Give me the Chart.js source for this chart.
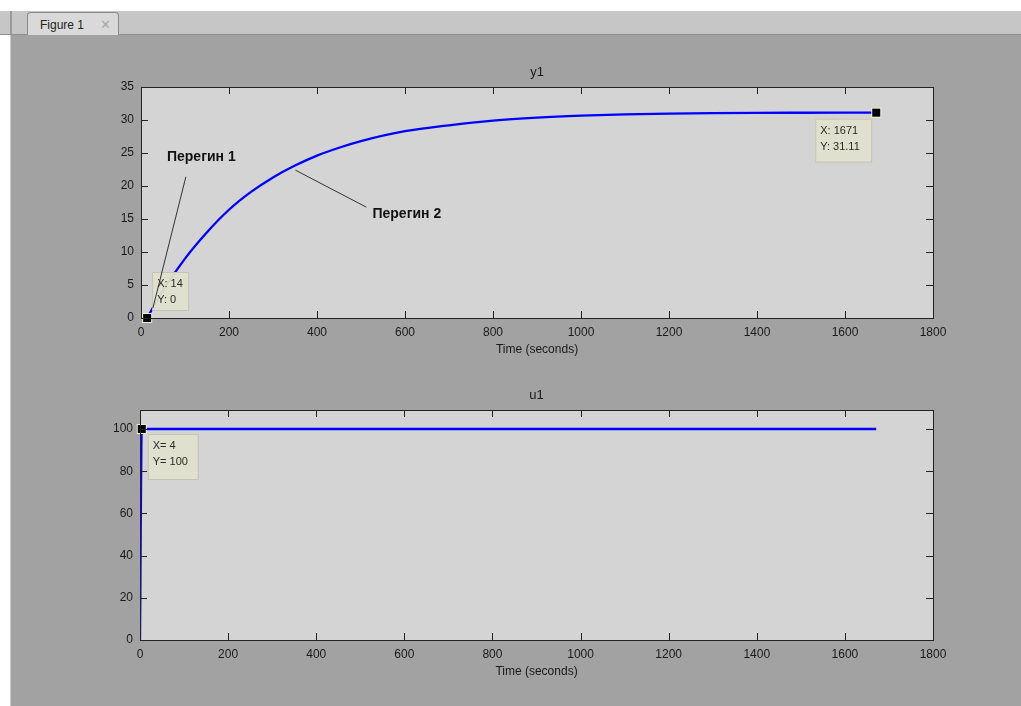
<!DOCTYPE html>
<html>
<head>
<meta charset="utf-8">
<script src="https://cdn.jsdelivr.net/npm/chart.js@4"></script>
<style>
  html, body { margin: 0; padding: 0; background: #fff; }
  #page { position: relative; width: 1021px; height: 706px; overflow: hidden; background: #fff; }
  #tabbar { position: absolute; left: 0; top: 11px; width: 1021px; height: 23px; background: #c6c6c6; border-bottom: 1px solid #8e8e8e; }
  #tabbar .notch { position: absolute; left: 10px; top: 0; width: 2px; height: 23px; background: #9a9a9a; }
  #tab { position: absolute; left: 27px; top: 12px; width: 90px; height: 24px; background: #d9d9d9; border: 1px solid #8a8a8a; border-bottom: none; border-radius: 4px 4px 0 0; font: 12px "Liberation Sans", Arial, sans-serif; color: #222; }
  #tab .name { position: absolute; left: 12px; top: 5px; }
  #tab .close { position: absolute; left: 72px; top: 4px; color: #a8a8a8; font-size: 13px; }
  #figure { position: absolute; left: 10px; top: 35px; width: 1011px; height: 671px; background: #a2a2a2; border-left: 1px solid #c8c8c8; }
  canvas { position: absolute; left: 0; }
</style>
</head>
<body>
<div id="page">
  <div id="tabbar"><div class="notch"></div></div>
  <div id="tab"><span class="name">Figure 1</span><span class="close">✕</span></div>
  <div id="figure"></div>
  <canvas id="plotY" width="1021" height="330" style="top:40px"></canvas>
  <canvas id="plotU" width="1021" height="346" style="top:360px"></canvas>
</div>
<script>
// y1: plant output
const timeY = [14, 50, 100, 150, 200, 250, 300, 350, 400, 450, 500, 600, 700, 800, 900, 1000, 1100, 1200, 1300, 1400, 1500, 1671];
const valuesY = [0, 4.2, 9.0, 13.0, 16.4, 19.1, 21.3, 23.1, 24.6, 25.8, 26.8, 28.3, 29.2, 29.9, 30.35, 30.65, 30.85, 30.97, 31.04, 31.08, 31.1, 31.11];

// u1: control input (step)
const timeU = [0, 4, 1671];
const valuesU = [0, 100, 100];

const timeTicks = [0, 200, 400, 600, 800, 1000, 1200, 1400, 1600, 1800];

// data tips: [x, y, label lines]
const tipsY = [
  { x: 14, y: 0, lines: ['X: 14', 'Y: 0'], dx: 5, dy: -46, w: 36, h: 38 },
  { x: 1671, y: 31.11, lines: ['X: 1671', 'Y: 31.11'], dx: -61, dy: 6, w: 56, h: 43 },
];
const tipsU = [
  { x: 4, y: 100, lines: ['X= 4', 'Y= 100'], dx: 6, dy: 5, w: 50, h: 45 },
];

// text arrows in the upper axes (data units)
const notesY = [
  { text: 'Перегин 1', tx: 59, ty: 24.4, from: [102, 21.4], to: [27, 1.5] },
  { text: 'Перегин 2', tx: 526, ty: 15.8, from: [351, 22.4], to: [512, 16.8] },
];

const FONT = '"Liberation Sans", Arial, sans-serif';
const AXES_BG = '#d4d4d4';

const matlabAxes = {
  id: 'matlabAxes',
  beforeDraw(chart, args, opts) {
    const { ctx, chartArea: a } = chart;
    ctx.save();
    ctx.fillStyle = AXES_BG;
    ctx.fillRect(a.left, a.top, a.right - a.left, a.bottom - a.top);
    ctx.restore();
  },
  afterDraw(chart, args, opts) {
    const { ctx, chartArea: a, scales } = chart;
    const len = 7;
    ctx.save();
    ctx.strokeStyle = '#222';
    ctx.lineWidth = 1;
    ctx.beginPath();
    scales.x.ticks.forEach(t => {
      const px = Math.round(scales.x.getPixelForValue(t.value)) + 0.5;
      ctx.moveTo(px, a.bottom); ctx.lineTo(px, a.bottom - len);
      ctx.moveTo(px, a.top); ctx.lineTo(px, a.top + len);
    });
    scales.y.ticks.forEach(t => {
      const py = Math.round(scales.y.getPixelForValue(t.value)) + 0.5;
      ctx.moveTo(a.left, py); ctx.lineTo(a.left + len, py);
      ctx.moveTo(a.right, py); ctx.lineTo(a.right - len, py);
    });
    ctx.stroke();
    ctx.strokeRect(Math.round(a.left) + 0.5, Math.round(a.top) + 0.5,
      Math.round(a.right - a.left), Math.round(a.bottom - a.top));

    // axes title
    ctx.fillStyle = '#1a1a1a';
    ctx.font = '13px ' + FONT;
    ctx.textAlign = 'center';
    ctx.textBaseline = 'middle';
    ctx.fillText(opts.title, (a.left + a.right) / 2, a.top - 15);
    ctx.restore();
  },
  afterDatasetsDraw(chart, args, opts) {
    const { ctx, scales } = chart;
    ctx.save();
    (opts.tips || []).forEach(tip => {
      const px = scales.x.getPixelForValue(tip.x);
      const py = scales.y.getPixelForValue(tip.y);
      const bx = px + tip.dx, by = py + tip.dy;
      ctx.fillStyle = 'rgba(224,224,206,0.95)';
      ctx.fillRect(bx, by, tip.w, tip.h);
      ctx.strokeStyle = '#c4c4b2';
      ctx.strokeRect(bx + 0.5, by + 0.5, tip.w, tip.h);
      ctx.fillStyle = '#2a2a2a';
      ctx.font = '11px ' + FONT;
      ctx.textAlign = 'left';
      ctx.textBaseline = 'middle';
      tip.lines.forEach((s, i) => ctx.fillText(s, bx + 5, by + 12 + i * 16));
      // marker
      ctx.fillStyle = '#f2f0c8';
      ctx.fillRect(px - 5, py - 5, 10, 10);
      ctx.fillStyle = '#000';
      ctx.fillRect(px - 4, py - 4, 8, 8);
    });
    (opts.notes || []).forEach(n => {
      ctx.strokeStyle = '#333';
      ctx.lineWidth = 1;
      ctx.beginPath();
      ctx.moveTo(scales.x.getPixelForValue(n.from[0]), scales.y.getPixelForValue(n.from[1]));
      ctx.lineTo(scales.x.getPixelForValue(n.to[0]), scales.y.getPixelForValue(n.to[1]));
      ctx.stroke();
      ctx.fillStyle = '#111';
      ctx.font = 'bold 14px ' + FONT;
      ctx.textAlign = 'left';
      ctx.textBaseline = 'middle';
      ctx.fillText(n.text, scales.x.getPixelForValue(n.tx), scales.y.getPixelForValue(n.ty));
    });
    ctx.restore();
  }
};

function makeAxes(canvasId, xs, ys, yMax, yStep, title, tips, notes, padding) {
  const points = xs.map((x, i) => ({ x, y: ys[i] }));
  return new Chart(document.getElementById(canvasId), {
    type: 'line',
    data: {
      datasets: [{
        data: points,
        borderColor: '#0000ff',
        borderWidth: 2.3,
        pointRadius: 0,
        fill: false,
        cubicInterpolationMode: 'monotone',
      }],
    },
    options: {
      responsive: false,
      animation: false,
      layout: { padding },
      scales: {
        x: {
          type: 'linear',
          min: 0,
          max: 1800,
          afterBuildTicks: s => { s.ticks = timeTicks.map(v => ({ value: v })); },
          grid: { display: false, drawTicks: false },
          border: { display: false },
          ticks: {
            color: '#1a1a1a', font: { family: FONT, size: 12 }, padding: 7, maxRotation: 0, autoSkip: false,
            callback: v => String(v),
          },
          title: { display: true, text: 'Time (seconds)', color: '#1a1a1a', font: { family: FONT, size: 12 }, padding: { top: 2, bottom: 4 } },
          afterFit: s => { s.height = 43; },
        },
        y: {
          min: 0,
          max: yMax,
          grid: { display: false, drawTicks: false },
          border: { display: false },
          ticks: {
            stepSize: yStep, includeBounds: false, color: '#1a1a1a', font: { family: FONT, size: 12 }, padding: 7,
            callback: v => String(v),
          },
          afterFit: s => { s.width = 40; },
        },
      },
      plugins: {
        legend: { display: false },
        tooltip: { enabled: false },
        matlabAxes: { title, tips, notes },
      },
    },
    plugins: [matlabAxes],
  });
}

makeAxes('plotY', timeY, valuesY, 35, 5, 'y1', tipsY, notesY,
  { top: 47, left: 101, right: 88, bottom: 9 });
makeAxes('plotU', timeU, valuesU, 109, 20, 'u1', tipsU, [],
  { top: 50, left: 100, right: 88, bottom: 23 });
</script>
</body>
</html>
